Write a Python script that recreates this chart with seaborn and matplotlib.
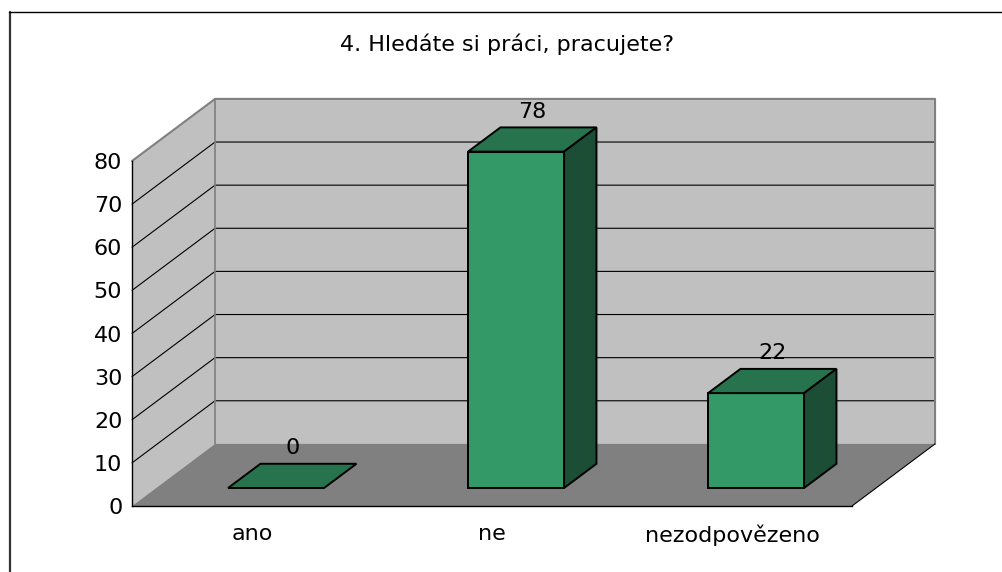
import matplotlib
matplotlib.use("Agg")
import matplotlib.pyplot as plt
from matplotlib.patches import Polygon
from matplotlib.lines import Line2D
import seaborn as sns

title = "4. Hledáte si práci, pracujete?"
categories = ["ano", "ne", "nezodpovězeno"]
values = [0, 78, 22]
y_ticks = [0, 10, 20, 30, 40, 50, 60, 70, 80]

# oblique "3D" depth, in data units (category units, value units)
DX, DY = 0.346, 14.4
T0, T1 = 0.29, 0.68          # front and back of the bars as depth fraction

wall = "#c0c0c0"
floor = "#808080"
edge_gray = "#808080"
front_c = "#339966"
top_c = "#26734d"
side_c = "#1c4d35"

sns.set_style("white")
plt.rcParams["font.family"] = ["DejaVu Sans"]

fig = plt.figure(figsize=(10.02, 5.72), dpi=100)
ax = fig.add_axes([132 / 1002, 66 / 572, 720 / 1002, 345 / 572])
ax.set_facecolor("none")

x0, x1 = -0.5, len(categories) - 0.5
ymax = y_ticks[-1]


def P(x, y, t):
    return (x + t * DX, y + t * DY)


def line(pts, **kw):
    ax.add_line(Line2D([p[0] for p in pts], [p[1] for p in pts], clip_on=False, **kw))


# walls and floor
ax.add_patch(Polygon([P(x0, 0, 0), P(x0, ymax, 0), P(x0, ymax, 1), P(x0, 0, 1)],
                     closed=True, facecolor=wall, edgecolor="none", zorder=0.5, clip_on=False))
ax.add_patch(Polygon([P(x0, 0, 1), P(x1, 0, 1), P(x1, ymax, 1), P(x0, ymax, 1)],
                     closed=True, facecolor=wall, edgecolor="none", zorder=0.5, clip_on=False))
ax.add_patch(Polygon([P(x0, 0, 0), P(x1, 0, 0), P(x1, 0, 1), P(x0, 0, 1)],
                     closed=True, facecolor=floor, edgecolor="none", zorder=0.6, clip_on=False))

# gridlines on side and back wall
for v in y_ticks[1:-1]:
    line([P(x0, v, 0), P(x0, v, 1), P(x1, v, 1)], color="black", lw=0.8, zorder=0.7)

# outline of walls
line([P(x0, ymax, 0), P(x0, ymax, 1), P(x1, ymax, 1), P(x1, 0, 1)], color=edge_gray, lw=1.5, zorder=0.8)
line([P(x0, 0, 1), P(x0, ymax, 1)], color=edge_gray, lw=1.2, zorder=0.8)
line([P(x1, 0, 0), P(x1, 0, 1)], color="black", lw=0.8, zorder=0.8)

# front faces through seaborn
sns.barplot(x=categories, y=values, ax=ax, color=front_c, saturation=1,
            width=0.4, edgecolor="black", linewidth=1.4)

bars = list(ax.patches)[-len(values):]
d = T1 - T0
for p, v in zip(bars, values):
    bx = p.get_x()
    w = p.get_width()
    h = p.get_height()
    p.set_x(bx + T0 * DX)
    p.set_y(T0 * DY)
    p.set_zorder(3)
    p.set_clip_on(False)
    fl, fr = bx, bx + w
    # top face
    ax.add_patch(Polygon([P(fl, h, T0), P(fr, h, T0), P(fr, h, T1), P(fl, h, T1)],
                         closed=True, facecolor=top_c, edgecolor="black", lw=1.4,
                         joinstyle="miter", zorder=3.1, clip_on=False))
    # side face
    if h > 0:
        ax.add_patch(Polygon([P(fr, 0, T0), P(fr, h, T0), P(fr, h, T1), P(fr, 0, T1)],
                             closed=True, facecolor=side_c, edgecolor="black", lw=1.4,
                             joinstyle="miter", zorder=3.1, clip_on=False))
    lx, ly = P(bx + w / 2, h, T1)
    ax.annotate(str(v), (lx - d * DX / 2, ly), xytext=(0, 4), textcoords="offset points",
                ha="center", va="bottom", fontsize=16, color="black", zorder=4,
                annotation_clip=False)

ax.set_xlim(x0, x1)
ax.set_ylim(0, ymax)
ax.set_yticks(y_ticks)
ax.set_xticks(range(len(categories)))
ax.set_xticklabels(categories)
ax.set_xticks([x0 + i for i in range(len(categories) + 1)], minor=True)
ax.tick_params(axis="x", which="major", length=0, pad=13, labelsize=16, colors="black")
ax.tick_params(axis="x", which="minor", length=5, width=1, direction="out", color="black")
ax.tick_params(axis="y", length=4, width=1, pad=3, labelsize=16, colors="black", direction="out")
ax.set_xlabel("")
ax.set_ylabel("")
for s in ["top", "right"]:
    ax.spines[s].set_visible(False)
for s in ["left", "bottom"]:
    ax.spines[s].set_color("black")
    ax.spines[s].set_linewidth(1)
    ax.spines[s].set_zorder(2.5)
ax.grid(False)

fig.text(0.506, 1 - 44 / 572, title, ha="center", va="center", fontsize=16, color="black")

# outer chart frame (left and top only visible)
fig.add_artist(Line2D([9.5 / 1002, 9.5 / 1002], [0, 1 - 12 / 572], color="#333333",
                      lw=1.6, transform=fig.transFigure))
fig.add_artist(Line2D([9 / 1002, 1], [1 - 12 / 572, 1 - 12 / 572], color="black",
                      lw=1.0, transform=fig.transFigure))

fig.savefig("out.png", dpi=100, facecolor="white")
